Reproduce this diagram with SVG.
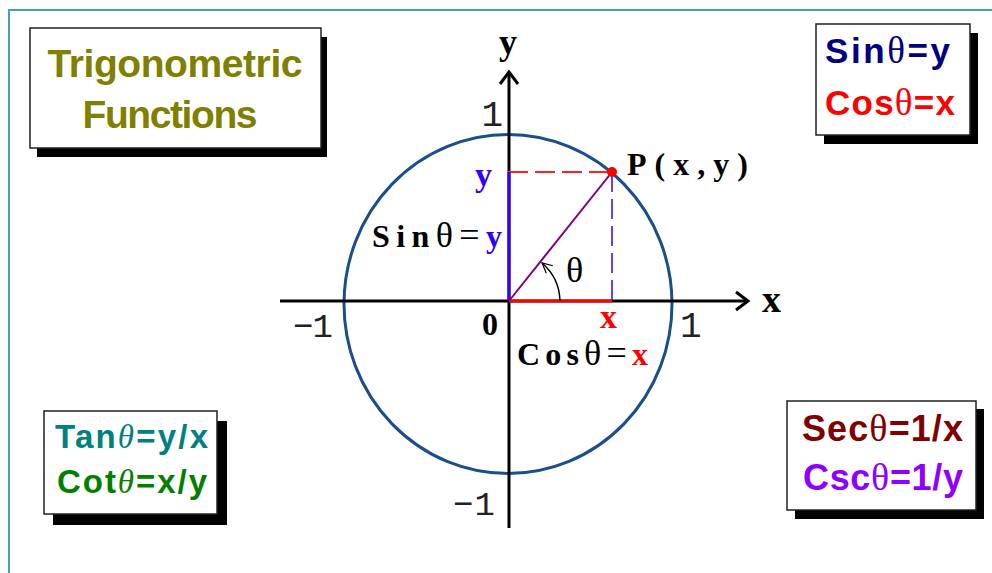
<svg xmlns="http://www.w3.org/2000/svg" width="992" height="573" viewBox="0 0 992 573">
<style>
.box{fill:#fff;stroke:#222;stroke-width:1.5}
.shadow{fill:#000}
.bt{font-family:"Liberation Sans",Arial,sans-serif;font-weight:bold}
.th{font-family:"Liberation Serif","Times New Roman",serif;font-weight:normal}
.mono{font-family:"Liberation Serif","Times New Roman",serif;font-weight:bold;fill:#000}
.num{font-family:"Liberation Mono","Courier New",monospace;font-weight:normal;fill:#222}
.axis{stroke:#000;stroke-width:3;fill:none}
</style>
<defs>
<marker id="axisArrow" markerUnits="userSpaceOnUse" markerWidth="18" markerHeight="22" viewBox="0 0 18 22" refX="14" refY="11" orient="auto">
<path d="M2,2 L14,11 L2,20" fill="none" stroke="#000" stroke-width="3"/>
</marker>
<marker id="angArrow" markerUnits="userSpaceOnUse" markerWidth="14" markerHeight="14" viewBox="0 0 14 14" refX="12" refY="7" orient="auto">
<path d="M2,2 L12,7 L2,12" fill="none" stroke="#000" stroke-width="1.2"/>
</marker>
</defs>
<rect width="992" height="573" fill="#fff"/>
<g id="frame" stroke="#45A3A3" stroke-width="2" fill="none">
<path d="M9,573 V10 H992"/>
</g>
<g id="title">
<rect class="shadow" x="37" y="37" width="290" height="120"/>
<rect class="box" x="30" y="28" width="291" height="120"/>
<text class="bt" x="175" y="77" font-size="39" fill="#808000" text-anchor="middle" textLength="255">Trigonometric</text>
<text class="bt" x="170" y="128" font-size="39" fill="#808000" text-anchor="middle" textLength="175">Functions</text>
</g>
<g id="box-sin-cos">
<rect class="shadow" x="824" y="33" width="154" height="111"/>
<rect class="box" x="816" y="24" width="154" height="111"/>
<text class="bt" x="825" y="63" font-size="35" fill="#000080" textLength="125">Sin<tspan class="th" font-size="37">θ</tspan>=y</text>
<text class="bt" x="825" y="115" font-size="35" fill="#FF0000" textLength="130">Cos<tspan class="th" font-size="37">θ</tspan>=x</text>
</g>
<g id="box-tan-cot">
<rect class="shadow" x="53" y="421" width="174" height="104"/>
<rect class="box" x="44" y="411" width="173" height="103"/>
<text class="bt" x="55" y="448" font-size="33" fill="#008080" textLength="153">Tan<tspan class="th" font-style="italic">θ</tspan>=y/x</text>
<text class="bt" x="57" y="493" font-size="33" fill="#008000" textLength="150">Cot<tspan class="th" font-style="italic">θ</tspan>=x/y</text>
</g>
<g id="box-sec-csc">
<rect class="shadow" x="795" y="409" width="189" height="110"/>
<rect class="box" x="787" y="401" width="189" height="109"/>
<text class="bt" x="802" y="441" font-size="36" fill="#800000" textLength="161">Sec<tspan class="th" font-size="38">θ</tspan>=1/x</text>
<text class="bt" x="803" y="490" font-size="36" fill="#9000FF" textLength="160">Csc<tspan class="th" font-size="38">θ</tspan>=1/y</text>
</g>
<g id="unit-circle">
<ellipse cx="508" cy="304" rx="164" ry="169.5" fill="none" stroke="#1A4F8C" stroke-width="3"/>
</g>
<g id="axes">
<line class="axis" x1="280" y1="301" x2="748" y2="301" marker-end="url(#axisArrow)"/>
<line class="axis" x1="509" y1="528" x2="509" y2="72" marker-end="url(#axisArrow)"/>
</g>
<g id="connectors">
<line x1="508" y1="172" x2="612" y2="172" stroke="#FF2020" stroke-width="2" stroke-dasharray="20 7"/>
<line x1="612" y1="172" x2="612" y2="301" stroke="#3300FF" stroke-width="1.5" stroke-dasharray="20 7"/>
<line x1="509" y1="172" x2="509" y2="301" stroke="#3300FF" stroke-width="3"/>
<line x1="509" y1="301" x2="612" y2="301" stroke="#FF0000" stroke-width="3"/>
<line x1="509" y1="301" x2="612" y2="172" stroke="#800080" stroke-width="2"/>
<path d="M560,301 A52,52 0 0 0 542,263" fill="none" stroke="#000" stroke-width="1.5" marker-end="url(#angArrow)"/>
</g>
<g id="point-P">
<circle cx="612" cy="172" r="5" fill="#FF0000"/>
<text class="mono" x="627" y="175" font-size="32" textLength="121">P(x,y)</text>
</g>
<g id="labels">
<text class="mono" x="499" y="54" font-size="36">y</text>
<text class="num" x="503" y="126" font-size="36" text-anchor="end">1</text>
<text class="mono" x="475" y="186" font-size="34" style="fill:#3300FF">y</text>
<text class="mono" x="372" y="247" font-size="32" textLength="130">Sin<tspan class="th" font-size="36">θ=</tspan><tspan style="fill:#3300FF">y</tspan></text>
<text class="th" x="566" y="282" font-size="36" fill="#000">θ</text>
<text class="num" x="293" y="337" font-size="34" textLength="40">−1</text>
<text class="mono" x="482" y="335" font-size="32">0</text>
<text class="mono" x="600" y="328" font-size="34" style="fill:#FF0000">x</text>
<text class="num" x="680" y="337" font-size="36">1</text>
<text class="mono" x="762" y="312" font-size="38">x</text>
<text class="mono" x="517" y="365" font-size="32" textLength="131">Cos<tspan class="th" font-size="36">θ=</tspan><tspan style="fill:#FF0000">x</tspan></text>
<text class="num" x="453" y="515" font-size="34" textLength="42">−1</text>
</g>
</svg>
